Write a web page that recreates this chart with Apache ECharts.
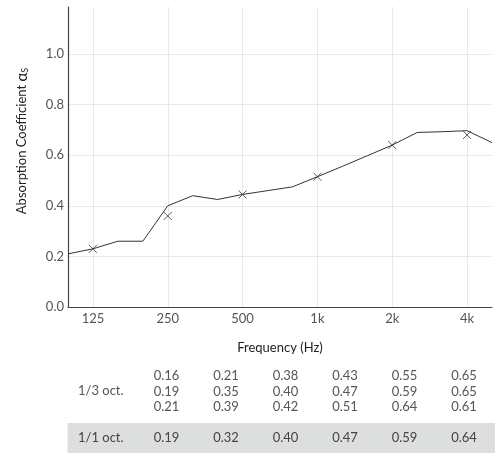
<!DOCTYPE html>
<html>
<head>
<meta charset="utf-8">
<script src="https://cdn.jsdelivr.net/npm/echarts@6/dist/echarts.min.js"></script>
<style>
html,body{margin:0;padding:0;background:#fff;}
#chart{width:495px;height:453px;}
</style>
</head>
<body>
<div id="chart"></div>
<script>
// 1/3-octave bands on the x axis
const bands = ['100','125','160','200','250','315','400','500','630','800','1k','1.25k','1.6k','2k','2.5k','3.15k','4k','5k'];
// curve values (1/3 octave)
const curveValues = [0.21,0.23,0.26,0.26,0.40,0.44,0.425,0.445,0.46,0.475,0.515,0.556,0.598,0.64,0.69,0.693,0.697,0.65];
// octave markers (x)
const octaveBands = ['125','250','500','1k','2k','4k'];
const octaveValues = [0.23,0.36,0.445,0.515,0.64,0.68];
// axis tick labels
const xTickLabels = ['125','250','500','1k','2k','4k'];
const yTicks = [0.0,0.2,0.4,0.6,0.8,1.0];
// table contents
const thirdOctRow1 = ['0.16','0.21','0.38','0.43','0.55','0.65'];
const thirdOctRow2 = ['0.19','0.35','0.40','0.47','0.59','0.65'];
const thirdOctRow3 = ['0.21','0.39','0.42','0.51','0.64','0.61'];
const octRow = ['0.19','0.32','0.40','0.47','0.59','0.64'];
const rowLabels = ['1/3 oct.','1/1 oct.'];

const FONT = 'Lato';
const chart = echarts.init(document.getElementById('chart'), null, {renderer:'canvas'});

const colX = [166.5,226,285.5,345,404.5,464];
const graphics = [];
graphics.push({type:'rect', shape:{x:67.5,y:423,width:430,height:30}, style:{fill:'#dcdfde'}, z:0});
graphics.push({type:'text', x:22, y:141, rotation:Math.PI/2, style:{
  text:'Absorption Coefficient {a|α}{s|S}', rich:{a:{fontSize:15,fontFamily:FONT,fill:'#222'}, s:{fontSize:9,fontFamily:FONT,fill:'#222',padding:[6,0,0,0]}},
  fontSize:13, fontFamily:FONT, fill:'#222', align:'center', verticalAlign:'middle'}});
graphics.push({type:'text', x:78, y:391, style:{text:rowLabels[0], fontSize:13, fontFamily:FONT, fill:'#555', align:'left', verticalAlign:'middle'}});
graphics.push({type:'text', x:78, y:438, style:{text:rowLabels[1], fontSize:13, fontFamily:FONT, fill:'#444', align:'left', verticalAlign:'middle'}});
[thirdOctRow1,thirdOctRow2,thirdOctRow3].forEach((row,ri)=>{
  row.forEach((t,ci)=>{
    graphics.push({type:'text', x:colX[ci], y:376+ri*15.5, style:{text:t, fontSize:13, fontFamily:FONT, fill:'#555', align:'center', verticalAlign:'middle'}});
  });
});
octRow.forEach((t,ci)=>{
  graphics.push({type:'text', x:colX[ci], y:438, style:{text:t, fontSize:13, fontFamily:FONT, fill:'#444', align:'center', verticalAlign:'middle'}});
});

const option = {
  animation:false,
  grid:{left:68, right:-4, top:7, bottom:146, containLabel:false},
  xAxis:{
    type:'category', data:bands, boundaryGap:false,
    name:'Frequency (Hz)', nameLocation:'middle', nameGap:34,
    nameTextStyle:{fontSize:13, fontFamily:FONT, color:'#222'},
    axisLine:{lineStyle:{color:'#444', width:1.2}},
    axisTick:{show:false},
    axisLabel:{interval:0, fontSize:13, fontFamily:FONT, color:'#555', margin:5,
      formatter:v=> xTickLabels.indexOf(v)>=0 ? v : ''},
    splitLine:{show:true, interval:(i,v)=>xTickLabels.indexOf(v)>=0, lineStyle:{color:'#e8e8e8'}}
  },
  yAxis:{
    type:'value', min:0, max:1.186, interval:0.2,
    axisLine:{show:true, lineStyle:{color:'#444', width:1.2}},
    axisTick:{show:false},
    axisLabel:{fontSize:13, fontFamily:FONT, color:'#555', margin:4, showMaxLabel:false,
      formatter:v=> yTicks.some(t=>Math.abs(t-v)<1e-6) ? v.toFixed(1) : ''},
    splitLine:{show:true, showMaxLine:false, lineStyle:{color:'#e8e8e8'}}
  },
  series:[
    {type:'line', data:curveValues, symbol:'none', lineStyle:{color:'#333', width:1}, z:3},
    {type:'scatter', data:octaveBands.map((b,i)=>[b,octaveValues[i]]),
      symbol:'path://M0,0L10,10M10,0L0,10', symbolSize:8,
      itemStyle:{color:'rgba(0,0,0,0)', borderColor:'#333', borderWidth:1}, z:4}
  ],
  graphic:graphics
};
chart.setOption(option);
</script>
</body>
</html>
